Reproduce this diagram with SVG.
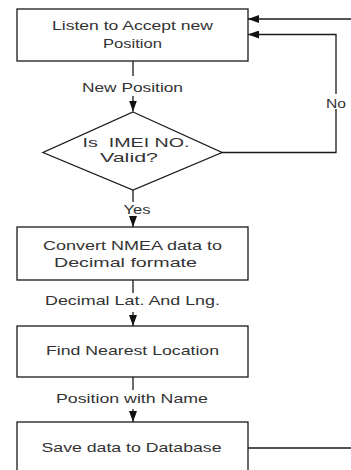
<svg xmlns="http://www.w3.org/2000/svg" width="351" height="470" viewBox="0 0 351 470">
<defs>
<style>
.box{fill:#fff;stroke:#1a1a1a;stroke-width:1.3}
.ln{fill:none;stroke:#1a1a1a;stroke-width:1.3}
.t{font-family:"Liberation Sans",Arial,sans-serif;font-size:13px;fill:#333;text-anchor:middle}
</style>
<marker id="ah" viewBox="0 0 11 8" refX="11" refY="4" markerWidth="11" markerHeight="8" markerUnits="userSpaceOnUse" orient="auto">
<path d="M0,0 L11,4 L0,8 Z" fill="#111"/>
</marker>
</defs>
<rect width="351" height="470" fill="#fff"/>
<g id="connectors">
<line class="ln" x1="133" y1="61" x2="133" y2="76"/>
<line class="ln" x1="133" y1="96" x2="133" y2="111.5" marker-end="url(#ah)"/>
<line class="ln" x1="133" y1="190" x2="133" y2="202"/>
<line class="ln" x1="133" y1="217" x2="133" y2="227" marker-end="url(#ah)"/>
<line class="ln" x1="133" y1="280" x2="133" y2="293"/>
<line class="ln" x1="133" y1="312" x2="133" y2="326" marker-end="url(#ah)"/>
<line class="ln" x1="133" y1="377" x2="133" y2="390"/>
<line class="ln" x1="133" y1="409" x2="133" y2="422" marker-end="url(#ah)"/>
<polyline class="ln" points="222,152.5 336,152.5 336,109"/>
<polyline class="ln" points="336,94 336,34.5 248,34.5" marker-end="url(#ah)"/>
<line class="ln" x1="248" y1="448" x2="351" y2="448"/>
<line class="ln" x1="351" y1="19" x2="248" y2="19" marker-end="url(#ah)"/>
<text class="t" x="132.5" y="92" textLength="101" lengthAdjust="spacingAndGlyphs">New Position</text>
<text class="t" x="336" y="108" textLength="20" lengthAdjust="spacingAndGlyphs">No</text>
<text class="t" x="137" y="214" textLength="27" lengthAdjust="spacingAndGlyphs">Yes</text>
<text class="t" x="132.5" y="305" textLength="175" lengthAdjust="spacingAndGlyphs">Decimal Lat. And Lng.</text>
<text class="t" x="132" y="403" textLength="152" lengthAdjust="spacingAndGlyphs">Position with Name</text>
</g>
<g id="listen">
<rect class="box" x="17" y="9" width="231" height="52"/>
<text class="t" x="132.5" y="30" textLength="161" lengthAdjust="spacingAndGlyphs">Listen to Accept new</text>
<text class="t" x="132.5" y="47.5" textLength="59" lengthAdjust="spacingAndGlyphs">Position</text>
</g>
<g id="valid">
<polygon class="box" points="133,112 222,152.5 133,190 43,152.5"/>
<text class="t" x="136" y="147" textLength="107" lengthAdjust="spacingAndGlyphs" xml:space="preserve">Is  IMEI NO.</text>
<text class="t" x="129" y="162" textLength="58" lengthAdjust="spacingAndGlyphs">Valid?</text>
</g>
<g id="convert">
<rect class="box" x="17" y="227" width="231" height="53"/>
<text class="t" x="132.5" y="250" textLength="179" lengthAdjust="spacingAndGlyphs">Convert NMEA data to</text>
<text class="t" x="125.5" y="266.5" textLength="143" lengthAdjust="spacingAndGlyphs">Decimal formate</text>
</g>
<g id="nearest">
<rect class="box" x="17" y="326" width="231" height="51"/>
<text class="t" x="132.5" y="354.5" textLength="173" lengthAdjust="spacingAndGlyphs">Find Nearest Location</text>
</g>
<g id="save">
<rect class="box" x="17" y="422" width="231" height="53"/>
<text class="t" x="131.5" y="451.5" textLength="180" lengthAdjust="spacingAndGlyphs">Save data to Database</text>
</g>
</svg>
